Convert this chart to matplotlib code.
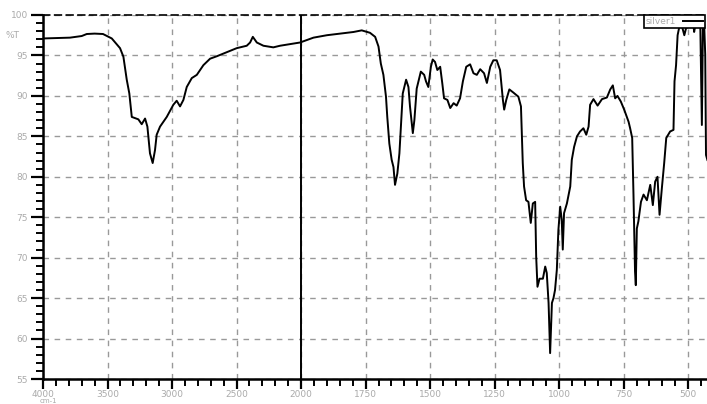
import matplotlib
matplotlib.use("Agg")
import matplotlib.pyplot as plt
import numpy as np

# ======================
# SPECTRUM
# ======================
wavenumber = [
    4000, 3791, 3700, 3661, 3600, 3535, 3467, 3403, 3377, 3351, 3331, 3312,
    3261, 3235, 3209, 3191, 3171, 3150, 3132, 3119, 3093, 3041, 2990, 2964,
    2938, 2912, 2886, 2847, 2808, 2757, 2705, 2653, 2576, 2499, 2421, 2395,
    2374, 2343, 2292, 2215, 2163, 2085, 2008, 1952, 1900, 1849, 1797, 1765,
    1733, 1713, 1700, 1691, 1681, 1671, 1666, 1658, 1649, 1642, 1636, 1627,
    1619, 1614, 1606, 1593, 1584, 1578, 1567, 1561, 1552, 1536, 1523, 1516,
    1507, 1497, 1490, 1481, 1472, 1461, 1453, 1446, 1433, 1422, 1409, 1397,
    1384, 1373, 1360, 1345, 1332, 1319, 1306, 1291, 1280, 1267, 1255, 1242,
    1229, 1218, 1213, 1205, 1193, 1177, 1158, 1148, 1145, 1141, 1136, 1128,
    1119, 1110, 1102, 1093, 1089, 1084, 1076, 1063, 1054, 1048, 1041, 1035,
    1028, 1022, 1016, 1009, 1003, 996, 990, 986, 981, 970, 957, 951,
    942, 931, 919, 906, 895, 886, 880, 867, 851, 834, 815, 802,
    792, 783, 774, 761, 748, 731, 725, 717, 712, 706, 703, 699,
    693, 683, 673, 660, 647, 637, 628, 619, 611, 602, 593, 585,
    570, 557, 553, 547, 541, 534, 524, 515, 508, 492, 479, 477,
    473, 453, 447, 443, 438, 434, 431, 425, 420,
]
transmittance = [
    97.1, 97.2, 97.4, 97.65, 97.7, 97.65, 97.1, 95.9, 94.85, 92.0, 90.3, 87.4,
    87.1, 86.5, 87.2, 86.2, 82.9, 81.7, 83.3, 85.2, 86.2, 87.4, 88.9, 89.4,
    88.7, 89.5, 91.1, 92.2, 92.6, 93.8, 94.6, 94.9, 95.4, 95.9, 96.2, 96.6,
    97.3, 96.6, 96.2, 96.0, 96.2, 96.4, 96.6, 97.2, 97.5, 97.7, 97.9, 98.1,
    97.8, 97.3, 96.1, 94.0, 92.6, 89.9, 87.4, 84.1, 82.1, 81.2, 79.0, 80.4,
    82.9, 85.8, 90.3, 92.0, 91.1, 88.7, 85.4, 87.0, 90.9, 93.0, 92.6, 91.8,
    91.1, 93.6, 94.5, 94.2, 93.2, 93.6, 91.6, 89.7, 89.5, 88.5, 89.1, 88.8,
    89.7, 91.8, 93.6, 93.9, 92.8, 92.6, 93.3, 92.8, 91.6, 93.6, 94.4, 94.4,
    93.2, 89.5, 88.3, 89.5, 90.8, 90.4, 89.9, 88.7, 85.8, 81.7, 78.8, 77.1,
    76.9, 74.3, 76.7, 76.9, 70.1, 66.4, 67.4, 67.4, 68.9, 68.1, 64.4, 58.2,
    64.4, 65.0, 66.0, 68.5, 73.4, 76.3, 74.7, 71.0, 75.5, 76.7, 78.8, 82.1,
    83.7, 85.0, 85.6, 86.0, 85.2, 86.2, 88.9, 89.6, 88.8, 89.6, 89.8, 90.8,
    91.3, 89.7, 90.0, 89.3, 88.3, 86.8, 86.0, 84.8, 77.8, 68.3, 66.6, 73.6,
    74.5, 76.9, 77.8, 77.1, 79.0, 76.5, 79.4, 80.0, 75.3, 78.6, 81.7, 84.8,
    85.6, 85.8, 91.8, 93.8, 97.5, 98.6, 98.6, 97.5, 98.4, 98.6, 98.6, 97.9,
    98.6, 98.6, 86.4, 98.6, 98.8, 95.1, 82.7, 82.0, 84.0,
]

x_major = [4000, 3500, 3000, 2500, 2000, 1750, 1500, 1250, 1000, 750, 500]
x_minor = list(range(4000, 2000, -100)) + list(range(2000, 400, -50))
y_major = [55, 60, 65, 70, 75, 80, 85, 90, 95, 100]
y_minor = list(range(55, 101))


# two-speed wavenumber axis: 2x expansion below 2000 cm-1
def fwd(w):
    w = np.asarray(w, dtype=float)
    return np.where(w >= 2000, w, 2 * w - 2000)


def inv(u):
    u = np.asarray(u, dtype=float)
    return np.where(u >= 2000, u, (u + 2000) / 2)


fig = plt.figure(figsize=(7.07, 4.04), dpi=100)
ax = fig.add_axes([43 / 707, 25 / 404, 671 / 707, 364 / 404])
ax.set_xscale("function", functions=(fwd, inv))
ax.set_xlim(4000, 400)
ax.set_ylim(55, 100)

ax.plot(wavenumber, transmittance, color="black", lw=1.4, label="silver1")
ax.axvline(2000, color="black", lw=1.4)

ax.set_xticks(x_major)
ax.set_xticks(x_minor, minor=True)
ax.set_yticks(y_major)
ax.set_yticks(y_minor, minor=True)
ax.set_xticklabels([str(v) for v in x_major])
ax.set_yticklabels([str(v) for v in y_major])

ax.grid(True, which="major", color="#999999", ls=(0, (4, 4)), lw=1.0)
ax.set_axisbelow(True)

ax.spines["right"].set_visible(False)
ax.spines["top"].set_linestyle((0, (4, 3)))
ax.spines["top"].set_linewidth(1.2)
ax.spines["left"].set_linewidth(1.8)
ax.spines["bottom"].set_linewidth(1.8)

ax.tick_params(axis="y", which="major", direction="out", length=9,
               width=1.6, colors="black", labelcolor="#aaaaaa", labelsize=6.5, pad=2)
ax.tick_params(axis="x", which="major", direction="out", length=7,
               width=1.6, colors="black", labelcolor="#aaaaaa", labelsize=6.5, pad=1)
ax.tick_params(axis="both", which="minor", direction="out", length=5,
               width=1.4, colors="black")
ax.tick_params(top=False, right=False, which="both")

ax.text(-0.035, 97.5, "%T", transform=ax.get_yaxis_transform(),
        ha="right", va="center", fontsize=6.5, color="#aaaaaa")
fig.text(40 / 707, 0.0, "cm-1", ha="left", va="bottom",
         fontsize=5, color="#aaaaaa")

leg = ax.legend(loc="upper right", bbox_to_anchor=(705 / 707, 389 / 404),
                bbox_transform=fig.transFigure, fontsize=6.5, frameon=True,
                fancybox=False, borderaxespad=0, borderpad=0.2,
                handlelength=2.2, markerfirst=False, labelcolor="#aaaaaa",
                framealpha=1)
leg.get_frame().set_edgecolor("black")
leg.get_frame().set_linewidth(1.2)

plt.savefig("out.png", dpi=100)
plt.close()
